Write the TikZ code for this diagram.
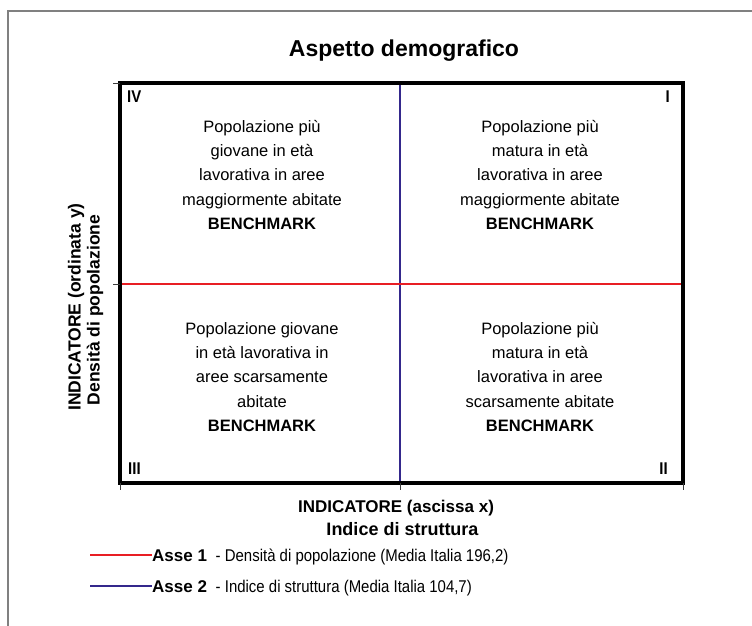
\documentclass[tikz,border=0pt]{standalone}
\usepackage{fontspec}
\setmainfont{Liberation Sans}
\newfontfamily\narrowfont[FakeStretch=0.88]{Liberation Sans}
\definecolor{axisred}{RGB}{232,30,36}
\definecolor{axisblue}{RGB}{52,40,140}
\definecolor{framegray}{RGB}{128,128,128}
\definecolor{tickgray}{RGB}{60,60,60}
\begin{document}
\begin{tikzpicture}[x=1pt,y=-1pt,
  quadtext/.style={font=\fontsize{16.5}{24.3}\selectfont, align=center, inner sep=0pt, anchor=north},
  roman/.style={font=\narrowfont\bfseries\fontsize{17}{17}\selectfont, inner sep=0pt},
  axislabel/.style={font=\bfseries\fontsize{17}{20}\selectfont, inner sep=0pt, anchor=base},
  legendtext/.style={font=\fontsize{17}{20}\selectfont, inner sep=0pt, anchor=base west},
  tickmark/.style={draw=tickgray, line width=0.8pt},
  boxline/.style={draw=black, line width=3.2pt},
  redaxis/.style={draw=axisred, line width=2pt},
  blueaxis/.style={draw=axisblue, line width=1.6pt}]
\useasboundingbox (0,0) rectangle (752,626);
\draw[framegray, line width=2pt] (8,626) -- (8,11) -- (752,11);

% title
\node[font=\bfseries\fontsize{23}{27}\selectfont, inner sep=0pt, anchor=base] (title) at (404,57) {Aspetto demografico};

% chart corners
\coordinate (nw) at (120,83);
\coordinate (ne) at (683,83);
\coordinate (sw) at (120,483);
\coordinate (se) at (683,483);
\coordinate (tmid) at (400,83);
\coordinate (bmid) at (400,483);
\coordinate (lmid) at (120,284);
\coordinate (rmid) at (683,284);

% axes of the quadrants
\draw[blueaxis] (tmid) -- (bmid);
\draw[redaxis] (lmid) -- (rmid);

% frame
\draw[boxline, line cap=rect] (nw) -- (ne) -- (se) -- (sw) -- cycle;

% ticks
\draw[tickmark] (sw) -- ++(0,7);
\draw[tickmark] (bmid) -- ++(0,7);
\draw[tickmark] (se) -- ++(0,7);
\draw[tickmark] (nw) -- ++(-7,0);
\draw[tickmark] (lmid) -- ++(-7,0);

% roman numerals
\node[roman, anchor=base west] (r4) at (127,102) {IV};
\node[roman, anchor=base east] (r1) at (670,102) {I};
\node[roman, anchor=base west] (r3) at (128,474) {III};
\node[roman, anchor=base east] (r2) at (668,474) {II};

% quadrant texts
\node[quadtext] (q4) at (262,119.8) {Popolazione più\\giovane in età\\lavorativa in aree\\maggiormente abitate\\\textbf{BENCHMARK}};
\node[quadtext] (q1) at (540,119.8) {Popolazione più\\matura in età\\lavorativa in aree\\maggiormente abitate\\\textbf{BENCHMARK}};
\node[quadtext] (q3) at (262,322.2) {Popolazione giovane\\in età lavorativa in\\aree scarsamente\\abitate\\\textbf{BENCHMARK}};
\node[quadtext] (q2) at (540,321.8) {Popolazione più\\matura in età\\lavorativa in aree\\scarsamente abitate\\\textbf{BENCHMARK}};

% axis labels
\node[axislabel] (xlab) at (396,512) {INDICATORE (ascissa x)};
\node[axislabel, font=\bfseries\fontsize{18}{20}\selectfont] (xsub) at (402.5,535) {Indice di struttura};
\node[axislabel, rotate=90, font=\bfseries\fontsize{17.5}{20}\selectfont] (ylab) at (80.5,307) {INDICATORE (ordinata y)};
\node[axislabel, rotate=90, font=\bfseries\fontsize{17.5}{20}\selectfont] (ysub) at (99.5,310) {Densità di popolazione};

% legend
\coordinate (l1) at (90,555);
\coordinate (l2) at (90,586);
\node[legendtext] (leg1) at (152,561) {\textbf{Asse 1}\hspace{4pt} {\narrowfont - Densità di popolazione (Media Italia 196,2)}};
\node[legendtext] (leg2) at (152,592) {\textbf{Asse 2}\hspace{4pt} {\narrowfont - Indice di struttura (Media Italia 104,7)}};
\draw[redaxis] (l1) -- (l1 -| leg1.west);
\draw[blueaxis] (l2) -- (l2 -| leg2.west);
\end{tikzpicture}
\end{document}
